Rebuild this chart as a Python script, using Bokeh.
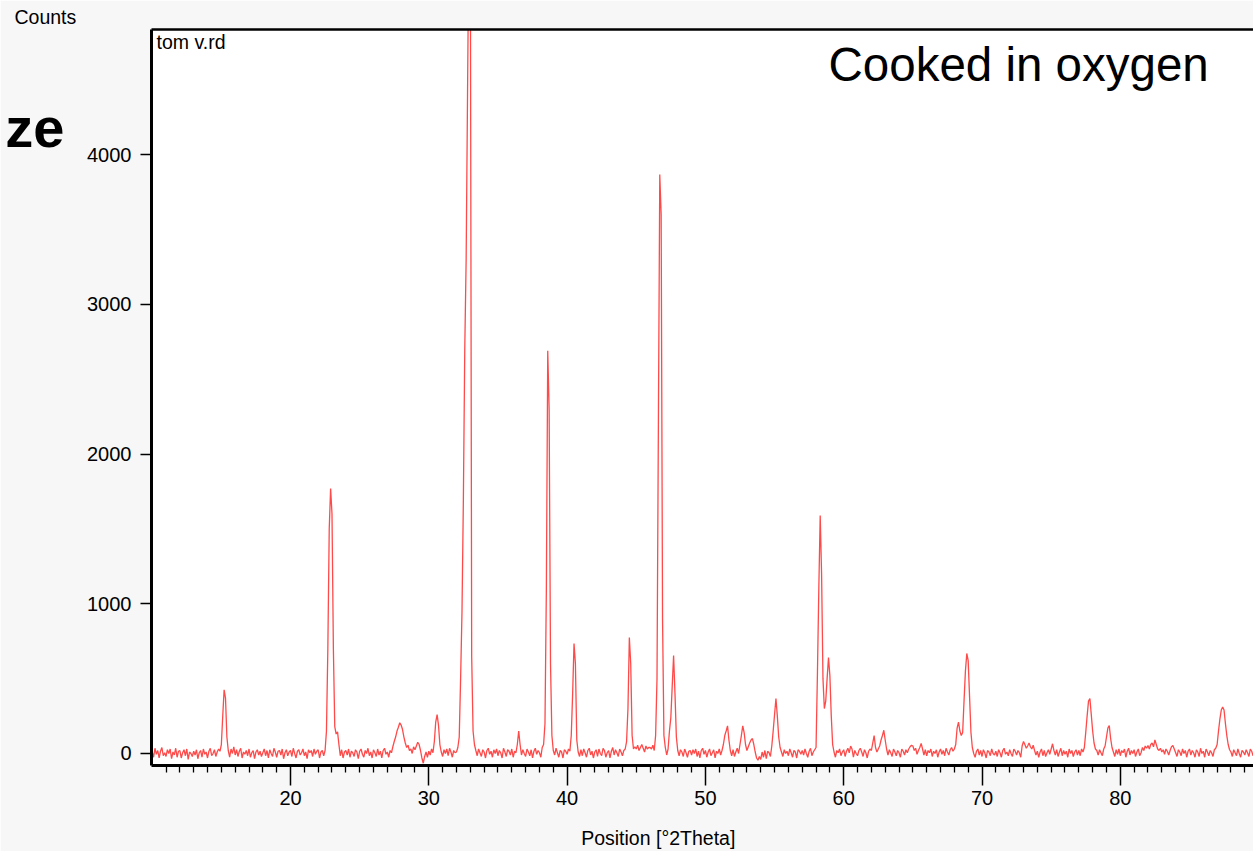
from bokeh.plotting import figure
from bokeh.models import Label, LinearAxis, FixedTicker, Range1d, Title
from bokeh.embed import file_html
from bokeh.resources import INLINE

# ---- data ----
two_theta_start = 10.0
two_theta_step = 0.1
counts = [
    10, -25, 35, -5, 20, -30, 15, 40, -15, 5,            # 10
    -20, 25, 0, 30, -35, 10, -10, 35, -25, 15,           # 11
    20, -30, 5, 25, -15, 30, -40, 10, 0, -20,            # 12
    15, -10, 25, -35, 5, 20, -25, 30, -5, 10,            # 13
    -30, 15, 35, -15, 0, 25, -20, 10, 30, 15,            # 14
    60, 250, 425, 370, 110, 20, -25, 30, 0, 45,          # 15
    -10, 25, -20, 15, 35, -30, 10, -5, 20, -15,          # 16
    30, -25, 5, 20, -35, 10, 25, -10, 15, -20,           # 17
    5, 30, -15, 20, -30, 25, 0, -20, 35, 10,             # 18
    -25, 15, 20, -10, 30, -35, 5, 25, -15, 10,           # 19
    20, -20, 35, 0, -30, 15, 25, -10, 5, 30,             # 20
    -15, 10, -35, 25, 5, 20, -20, 30, -5, 15,            # 21
    25, -30, 10, 20, -15, 20, 150, 700, 1500, 1770,      # 22
    1600, 700, 180, 130, 145, 60, -15, 25, -30, 10,      # 23
    20, -10, 30, -25, 15, 5, -20, 25, 10, -35,           # 24
    15, 30, -5, -25, 20, 0, 35, -15, 10, -30,            # 25
    25, 5, -20, 30, -10, 15, -30, 20, 35, -5,            # 26
    10, -25, 20, 5, 45, 80, 110, 150, 175, 205,          # 27
    190, 160, 110, 70, 40, 55, 20, 30, 0, 45,            # 28
    25, 50, 75, 60, 20, -30, -65, -20, 10, -25,          # 29
    15, -10, 30, 5, 80, 210, 260, 190, 60, 10,           # 30
    -20, 25, 0, 30, -15, 35, 10, -25, 20, 5,             # 31
    10, 40, 110, 500, 950, 1700, 2700, 3300, 4400, 5500, # 32
    5600, 650, 150, 60, 20, -15, 30, 5, -20, 25,         # 33
    10, -30, 20, 35, -5, 15, -25, 25, 0, 30,             # 34
    -15, 20, 5, -30, 35, 10, -20, 25, 15, -10,           # 35
    30, -25, 15, 5, 60, 150, 60, -10, 25, 0,             # 36
    -20, 30, 10, -15, 25, -30, 15, 35, -5, 20,           # 37
    5, -25, 40, 60, 200, 1100, 2690, 2300, 600, 120,     # 38
    20, -10, 35, 5, -25, 20, 10, -30, 25, 15,            # 39
    -5, 30, 15, 120, 400, 735, 600, 90, 10, -20,         # 40
    25, -15, 30, 5, -25, 20, 35, -10, 15, -30,           # 41
    10, 25, -20, 30, 0, -15, 35, 20, -25, 5,             # 42
    20, -30, 15, 40, -10, 25, 5, -20, 30, 10,            # 43
    -15, 20, 30, 80, 300, 775, 600, 120, 30, 45,         # 44
    30, 55, 20, 40, 60, 35, 10, 50, 30, 40,              # 45
    40, 30, 55, 20, 120, 500, 2200, 3868, 3600, 900,     # 46
    120, 40, -10, 30, 150, 240, 450, 655, 400, 110,      # 47
    20, -15, 25, 10, -20, 30, 5, -25, 15, 20,            # 48
    -10, 25, 0, 30, -20, 15, -30, 20, 35, -5,            # 49
    20, -25, 10, 30, -15, 5, 25, -30, 15, 0,             # 50
    30, -10, 20, 60, 120, 150, 185, 90, 20, -15,         # 51
    25, -20, 10, 35, 0, 60, 120, 185, 140, 60,           # 52
    20, 45, 70, 90, 100, 60, 10, -30, -45, -20,          # 53
    -40, 10, -25, 20, -35, 15, 5, -20, 50, 150,          # 54
    260, 367, 250, 110, 40, 10, -20, 25, 0, 15,          # 55
    -15, 30, 5, -25, 20, 10, -30, 25, 15, -5,            # 56
    20, -10, 30, 0, -25, 15, 35, -15, 10, 25,            # 57
    40, 534, 1100, 1590, 1200, 500, 300, 350, 500, 641,  # 58
    520, 250, 60, 10, -25, 20, 5, 30, -15, 10,           # 59
    25, -20, 15, 35, 5, 50, 30, -25, 20, 0,              # 60
    -15, 20, 35, 10, -20, 25, 5, -30, 15, 30,            # 61
    20, 70, 120, 40, 10, 30, 50, 90, 120, 155,           # 62
    90, 30, -10, 25, 5, -20, 30, 10, -15, 20,            # 63
    5, -25, 30, 15, -10, 25, 5, 30, 45, 55,              # 64
    50, 20, 35, -5, 20, 40, 67, 30, -10, 25,             # 65
    -15, 20, 5, 30, -20, 15, 0, 25, -25, 10,             # 66
    30, -5, 20, -15, 35, 10, -10, 25, 40, 15,            # 67
    30, 60, 170, 209, 150, 120, 140, 350, 550, 668,      # 68
    620, 380, 140, 40, 0, -25, 15, 30, -10, 20,          # 69
    -20, 25, 5, -30, 20, 10, -15, 30, 0, -10,            # 70
    15, -20, 25, 5, -25, 20, 35, -5, 10, -15,            # 71
    25, 0, -20, 30, 15, -10, 20, 5, -25, 50,             # 72
    80, 60, 35, 50, 70, 45, 30, 55, 20, -10,             # 73
    15, -25, 10, 30, -15, 20, -20, 5, 25, -5,            # 74
    30, 65, 20, -10, 25, -20, 10, 35, -15, 20,           # 75
    -5, 15, -25, 30, 0, 20, -20, 10, 25, -10,            # 76
    20, -15, 30, 10, 40, 140, 250, 350, 367, 260,        # 77
    150, 70, 30, 20, -10, 25, 5, -15, 30, 50,            # 78
    110, 170, 187, 100, 40, 10, -20, 25, -5, 30,         # 79
    -15, 20, 5, 30, -25, 15, 35, -10, 20, 0,             # 80
    25, -20, 10, 30, -15, 5, 40, 20, 50, 35,             # 81
    53, 30, 60, 70, 45, 91, 60, 30, 20, 35,              # 82
    10, 25, -5, 30, 15, -10, 20, 45, 53, 30,             # 83
    5, -20, 25, 10, -15, 30, 0, 20, -25, 15,             # 84
    30, -10, 20, 5, -25, 25, 10, -20, 35, 0,             # 85
    15, -25, 30, 10, -15, 20, 5, -20, 25, 35,            # 86
    60, 150, 230, 290, 310, 290, 200, 120, 60, 25,       # 87
    10, -20, 25, 5, -15, 30, 0, -25, 20, 10,             # 88
    -10, 25, 5, -20, 30, 15, -15, 20, 0, 10,             # 89
]
two_theta = [round(two_theta_start + two_theta_step * i, 2) for i in range(len(counts))]

x_major_ticks = [20, 30, 40, 50, 60, 70, 80]
x_minor_ticks = [v for v in range(11, 90) if v % 10 != 0]
y_major_ticks = [0, 1000, 2000, 3000, 4000]

sample_name = "tom v.rd"
note_text = "Cooked in oxygen"
x_title = "Position [°2Theta]"
y_title = "Counts"
slide_fragment = "ze"

FONT = "Liberation Sans"
X_TITLE_AT = 46.59      # where the x title is centred (data units)
FRAGMENT_AT = 4180      # where the slide fragment sits (data units)

p = figure(width=1253, height=851, output_backend="svg", toolbar_location=None,
           x_range=Range1d(9.949, 89.63), y_range=Range1d(-80.2, 4836),
           x_axis_location=None, y_axis_location=None,
           min_border_left=151, min_border_right=0, min_border_top=29,
           min_border_bottom=86)
p.outline_line_color = None
p.background_fill_color = "white"
p.border_fill_color = "#f7f7f7"
p.grid.visible = False

p.line(two_theta, counts, line_color="#ff4a4a", line_width=1.3)

# bottom axis
xaxis = LinearAxis(ticker=FixedTicker(ticks=x_major_ticks, minor_ticks=x_minor_ticks))
xaxis.axis_line_width = 3
xaxis.axis_line_color = "black"
xaxis.major_tick_in = 0
xaxis.major_tick_out = 20
xaxis.major_tick_line_width = 1.5
xaxis.minor_tick_in = 0
xaxis.minor_tick_out = 7
xaxis.minor_tick_line_width = 1.3
xaxis.major_label_text_font = FONT
xaxis.major_label_text_font_size = "20px"
xaxis.major_label_text_color = "black"
xaxis.major_label_standoff = 5
p.add_layout(xaxis, "below")

# x title carried by a bare axis so it can sit off-centre
title_axis = LinearAxis(ticker=FixedTicker(ticks=[X_TITLE_AT], minor_ticks=[]),
                        major_label_overrides={X_TITLE_AT: x_title})
title_axis.axis_line_color = None
title_axis.major_tick_line_color = None
title_axis.minor_tick_line_color = None
title_axis.major_tick_in = 0
title_axis.major_tick_out = 0
title_axis.minor_tick_out = 0
title_axis.major_label_standoff = 19
title_axis.major_label_text_font = FONT
title_axis.major_label_text_font_size = "19.5px"
title_axis.major_label_text_color = "black"
p.add_layout(title_axis, "below")

# left axis
yaxis = LinearAxis(ticker=FixedTicker(ticks=y_major_ticks, minor_ticks=[]))
yaxis.axis_line_width = 3
yaxis.axis_line_color = "black"
yaxis.major_tick_in = 0
yaxis.major_tick_out = 11
yaxis.major_tick_line_width = 1.5
yaxis.minor_tick_line_color = None
yaxis.major_label_text_font = FONT
yaxis.major_label_text_font_size = "20px"
yaxis.major_label_text_color = "black"
yaxis.major_label_standoff = 9
p.add_layout(yaxis, "left")

# slide text fragment at far left
frag_axis = LinearAxis(ticker=FixedTicker(ticks=[FRAGMENT_AT], minor_ticks=[]),
                       major_label_overrides={FRAGMENT_AT: slide_fragment})
frag_axis.axis_line_color = None
frag_axis.major_tick_line_color = None
frag_axis.minor_tick_line_color = None
frag_axis.major_tick_in = 0
frag_axis.major_tick_out = 0
frag_axis.minor_tick_out = 0
frag_axis.major_label_standoff = 20
frag_axis.major_label_text_font = FONT
frag_axis.major_label_text_font_size = "56px"
frag_axis.major_label_text_font_style = "bold"
frag_axis.major_label_text_color = "black"
p.add_layout(frag_axis, "left")

# top border line
topaxis = LinearAxis(ticker=FixedTicker(ticks=[], minor_ticks=[]))
topaxis.axis_line_width = 2.5
topaxis.axis_line_color = "black"
topaxis.major_tick_out = 0
topaxis.major_tick_in = 0
topaxis.minor_tick_out = 0
topaxis.major_label_standoff = 0
topaxis.major_label_text_font_size = "1px"
p.add_layout(topaxis, "above")

# "Counts" above the left axis
p.add_layout(Title(text=y_title, align="left", offset=-137, standoff=3,
                   vertical_align="bottom", text_font=FONT, text_font_size="19.5px",
                   text_font_style="normal", text_color="black"), "above")

p.add_layout(Label(x=10.31, y=4750, text=sample_name, text_font=FONT, text_font_size="19.5px",
                   text_align="left", text_baseline="alphabetic", text_color="black"))
p.add_layout(Label(x=58.90, y=4602, text=note_text, text_font=FONT, text_font_size="47.5px",
                   text_align="left", text_baseline="alphabetic", text_color="black"))

open("out.html", "w").write(file_html(p, INLINE))
